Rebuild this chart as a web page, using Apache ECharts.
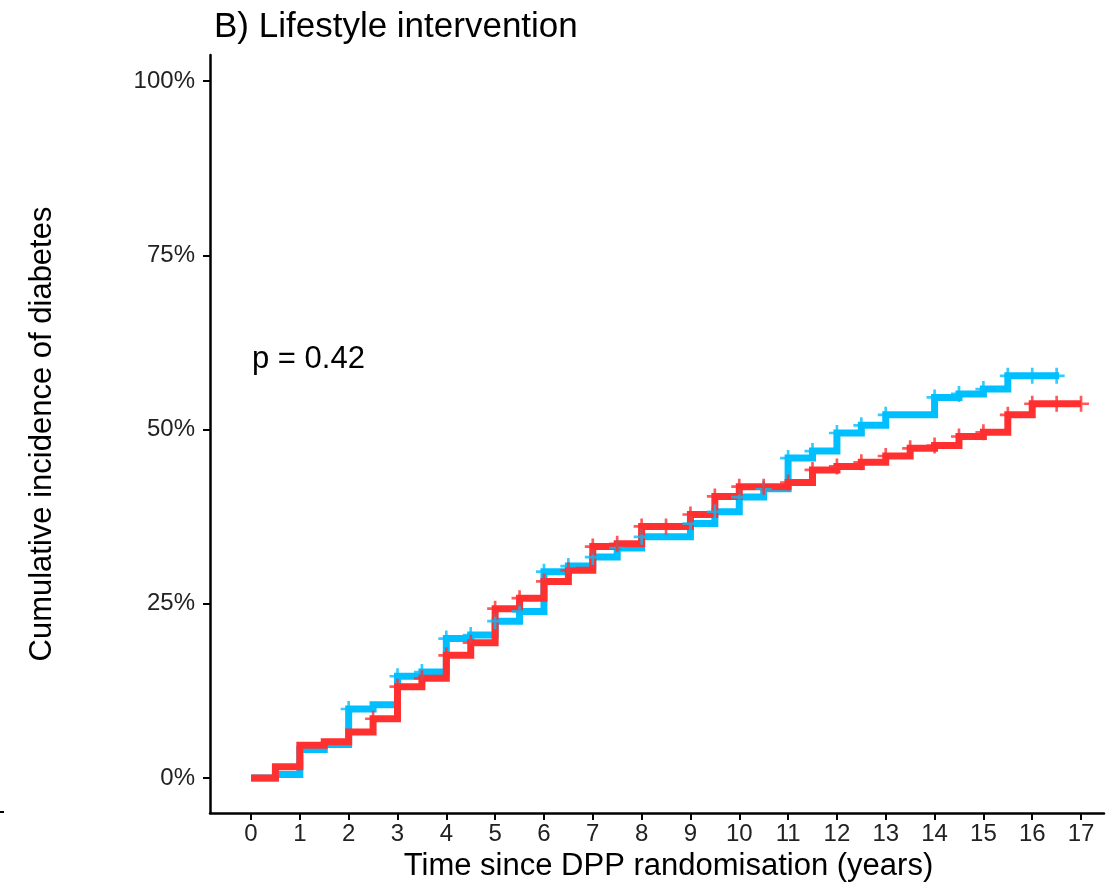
<!DOCTYPE html>
<html>
<head>
<meta charset="utf-8">
<script src="https://cdn.jsdelivr.net/npm/echarts@6/dist/echarts.min.js"></script>
<style>
  html, body { margin: 0; padding: 0; background: #fff; }
  #main { width: 1107px; height: 884px; }
</style>
</head>
<body>
<div id="main"></div>
<script>
// step curves: value holds from times[i] until times[i+1]
var blueTimes  = [0, 0.5, 1, 1.5, 2, 2.5, 3, 3.5, 4, 4.5, 5, 5.5, 6, 6.5, 7, 7.5, 8, 9, 9.5, 10, 10.5, 11, 11.5, 12, 12.5, 13, 14, 14.5, 15, 15.5, 16.55];
var blueValues = [0, 0.5, 4.1, 4.8, 9.9, 10.5, 14.6, 15.2, 20.0, 20.5, 22.5, 23.9, 29.6, 30.4, 31.7, 33.0, 34.6, 36.5, 38.2, 40.3, 41.5, 45.9, 46.9, 49.5, 50.6, 52.1, 54.6, 55.1, 55.8, 57.7, 57.7];
var redTimes   = [0, 0.5, 1, 1.5, 2, 2.5, 3, 3.5, 4, 4.5, 5, 5.5, 6, 6.5, 7, 7.5, 8, 9, 9.5, 10, 11, 11.5, 12, 12.5, 13, 13.5, 14, 14.5, 15, 15.5, 16, 17];
var redValues  = [0, 1.6, 4.7, 5.2, 6.6, 8.5, 13.1, 14.3, 17.6, 19.4, 24.3, 25.8, 28.2, 29.8, 33.2, 33.6, 36.1, 37.8, 40.4, 41.8, 42.4, 44.2, 44.7, 45.3, 46.2, 47.3, 47.7, 49.0, 49.6, 52.1, 53.7, 53.7];

// censoring marks (+)
var blueCensor = [2, 3, 3.5, 4, 4.5, 5, 5.5, 6, 6.5, 7, 7.5, 8, 9, 9.5, 10, 10.5, 11, 11.5, 12, 12.5, 13, 14, 14.5, 15, 15.5, 16, 16.5];
var redCensor  = [2.5, 3, 3.5, 4, 4.5, 5, 5.5, 6, 6.5, 7, 7.5, 8, 8.5, 9, 9.5, 10, 10.5, 11, 11.5, 12, 12.5, 13, 13.5, 14, 14.5, 15, 15.5, 16, 16.5, 17];

var xTicks = [0, 1, 2, 3, 4, 5, 6, 7, 8, 9, 10, 11, 12, 13, 14, 15, 16, 17];
var yTicks = [0, 25, 50, 75, 100];

var blueColor = '#00bfff';
var redColor = '#ff3030';

function levelAt(times, values, t) {
    var v = values[0];
    for (var i = 0; i < times.length; i++) {
        if (times[i] <= t) v = values[i];
    }
    return v;
}

function stepData(times, values) {
    return times.map(function (t, i) { return [t, values[i]]; });
}

function censorData(marks, times, values) {
    return marks.map(function (t) { return [t, levelAt(times, values, t)]; });
}

var plus = 'path://M-1,-6H1V-1H6V1H1V6H-1V1H-6V-1H-1Z';

var chart = echarts.init(document.getElementById('main'));
chart.setOption({
    animation: false,
    grid: { left: 210, right: 3, top: 55, bottom: 71, outerBoundsMode: 'none' },
    title: {
        text: 'B) Lifestyle intervention',
        left: 209, top: 5,
        textStyle: { fontFamily: 'Liberation Sans', fontSize: 35, fontWeight: 'normal', color: '#000' }
    },
    xAxis: {
        type: 'value',
        min: -0.84, max: 17.47,
        name: 'Time since DPP randomisation (years)',
        nameLocation: 'middle',
        nameGap: 37,
        nameTextStyle: { fontFamily: 'Liberation Sans', fontSize: 31, color: '#000', padding: [0, 0, 0, 23] },
        splitLine: { show: false },
        axisLine: { onZero: false, lineStyle: { color: '#000', width: 2.5 } },
        axisTick: { customValues: xTicks, length: 7, lineStyle: { color: '#000', width: 2 } },
        axisLabel: { customValues: xTicks, margin: 9, fontFamily: 'Liberation Sans', fontSize: 24, color: '#222' }
    },
    yAxis: {
        type: 'value',
        min: -5.02, max: 103.73,
        name: 'Cumulative incidence of diabetes',
        nameLocation: 'middle',
        nameGap: 152,
        nameTextStyle: { fontFamily: 'Liberation Sans', fontSize: 31, color: '#000' },
        splitLine: { show: false },
        axisLine: { show: true, onZero: false, lineStyle: { color: '#000', width: 2.5 } },
        axisTick: { show: true, customValues: yTicks, length: 7, lineStyle: { color: '#000', width: 2 } },
        axisLabel: {
            customValues: yTicks, margin: 15,
            fontFamily: 'Liberation Sans', fontSize: 24, color: '#222',
            formatter: function (v) { return v + '%'; }
        }
    },
    graphic: [
        {
            type: 'text', left: 252, top: 344,
            style: { text: 'p = 0.42', font: '31px "Liberation Sans"', fill: '#000' }
        },
        {
            type: 'line', shape: { x1: 0, y1: 812, x2: 4, y2: 812 },
            style: { stroke: '#000', lineWidth: 2 }
        }
    ],
    series: [
        {
            type: 'line', step: 'end', showSymbol: false,
            data: stepData(blueTimes, blueValues),
            lineStyle: { color: blueColor, width: 7, cap: 'butt', join: 'miter' },
            z: 2
        },
        {
            type: 'line', step: 'end', showSymbol: false,
            data: stepData(redTimes, redValues),
            lineStyle: { color: redColor, width: 7, cap: 'butt', join: 'miter' },
            z: 3
        },
        {
            type: 'scatter', symbol: plus, symbolSize: 16,
            data: censorData(blueCensor, blueTimes, blueValues),
            itemStyle: { color: blueColor },
            z: 4
        },
        {
            type: 'scatter', symbol: plus, symbolSize: 16,
            data: censorData(redCensor, redTimes, redValues),
            itemStyle: { color: redColor },
            z: 5
        }
    ]
});
</script>
</body>
</html>
